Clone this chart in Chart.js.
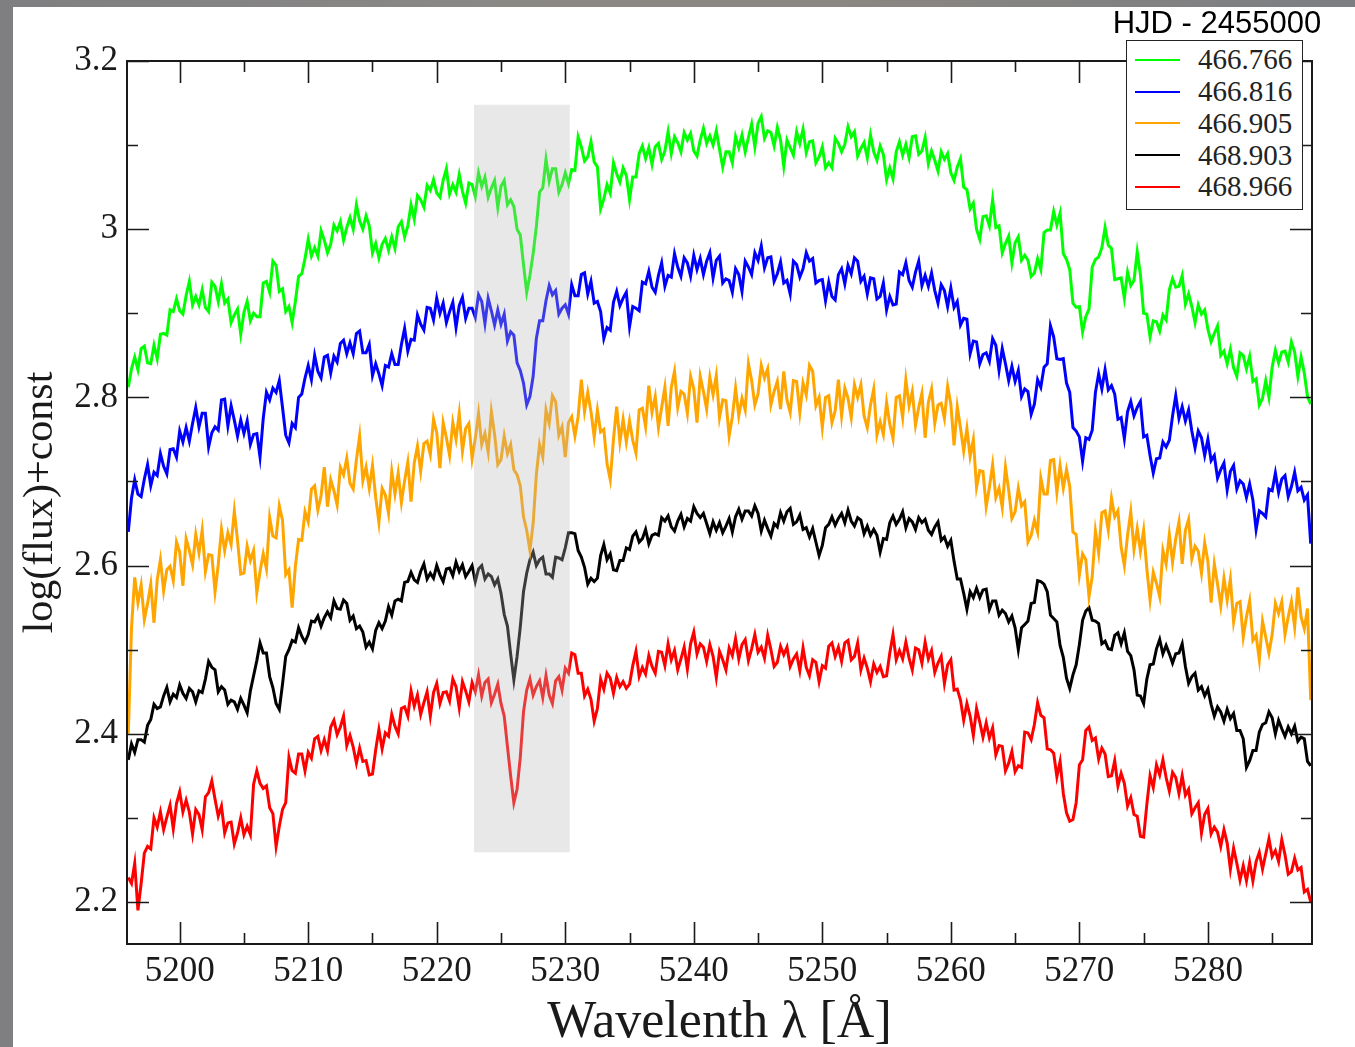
<!DOCTYPE html>
<html lang="en">
<head>
<meta charset="UTF-8">
<title>Spectra around 5240 Å</title>
<script src="https://cdn.jsdelivr.net/npm/chart.js"></script>
<style>
  html, body { margin: 0; padding: 0; }
  body {
    width: 1355px; height: 1047px; overflow: hidden; position: relative;
    background: linear-gradient(90deg, #7f7f81 0%, #8a8886 35%, #8b8782 60%, #7c7e82 100%);
  }
  .panel {
    position: absolute; left: 13px; top: 7px; width: 1342px; height: 1040px;
    background: #ffffff;
  }
  #spectra { position: absolute; left: 0; top: 0; }
  .legend-title {
    position: absolute; left: 1084px; top: 1px; width: 240px; text-align: center;
    font-family: "Liberation Sans", Arial, sans-serif; font-size: 31px; line-height: 30px;
    color: #000;
  }
  .legend-box {
    position: absolute; left: 1113px; top: 33px; width: 177px; height: 170px;
    border: 1.5px solid #222; background: #fff; padding-top: 3px; box-sizing: border-box;
  }
  .legend-row { display: flex; align-items: center; height: 31.75px; }
  .legend-line { width: 45px; height: 2px; margin-left: 8px; }
  .legend-text {
    margin-left: 18px; font-family: "Liberation Serif", "Times New Roman", serif;
    font-size: 29px; color: #222;
  }
</style>
</head>
<body>
<div class="panel">
  <canvas id="spectra" width="1342" height="1040"></canvas>
  <div class="legend-title">HJD - 2455000</div>
  <div class="legend-box" id="legend"></div>
</div>
<script>
// wavelength grid of the spectra (Å)
const lambdaStart = 5196.0;
const lambdaStep = 0.25;

// epochs (HJD - 2455000) and their colours
const epochs = ['466.766', '466.816', '466.905', '468.903', '468.966'];
const lineColors = ['#00ff00', '#0000ff', '#ffa500', '#000000', '#ff0000'];

// log(flux) + const, one value per grid step
const flux466766 = [
  2.812, 2.834, 2.848, 2.833, 2.858, 2.861, 2.841, 2.840,
  2.862, 2.846, 2.875, 2.876, 2.874, 2.904, 2.902, 2.917,
  2.903, 2.899, 2.921, 2.938, 2.910, 2.920, 2.910, 2.928,
  2.907, 2.902, 2.937, 2.932, 2.914, 2.935, 2.912, 2.917,
  2.889, 2.898, 2.905, 2.875, 2.901, 2.914, 2.891, 2.900,
  2.896, 2.896, 2.936, 2.938, 2.925, 2.962, 2.957, 2.926,
  2.929, 2.902, 2.908, 2.889, 2.914, 2.944, 2.947, 2.965,
  2.988, 2.968, 2.978, 2.968, 2.998, 2.987, 2.972, 2.982,
  3.005, 2.998, 3.009, 2.987, 3.002, 3.014, 3.000, 3.029,
  3.010, 3.000, 3.016, 3.004, 2.972, 2.983, 2.966, 2.982,
  2.989, 2.975, 2.991, 2.977, 3.003, 3.009, 2.991, 3.004,
  3.029, 3.012, 3.040, 3.035, 3.026, 3.052, 3.046, 3.059,
  3.043, 3.038, 3.058, 3.072, 3.042, 3.053, 3.044, 3.065,
  3.045, 3.031, 3.055, 3.053, 3.039, 3.067, 3.051, 3.062,
  3.038, 3.049, 3.058, 3.026, 3.051, 3.058, 3.029, 3.035,
  3.027, 3.000, 2.993, 2.958, 2.925, 2.945, 2.971, 3.003,
  3.044, 3.049, 3.083, 3.057, 3.072, 3.072, 3.044, 3.053,
  3.067, 3.054, 3.071, 3.070, 3.110, 3.098, 3.081, 3.086,
  3.104, 3.080, 3.074, 3.024, 3.036, 3.053, 3.043, 3.079,
  3.066, 3.056, 3.073, 3.064, 3.035, 3.062, 3.062, 3.090,
  3.099, 3.084, 3.097, 3.077, 3.098, 3.102, 3.083, 3.093,
  3.116, 3.090, 3.110, 3.103, 3.092, 3.115, 3.106, 3.114,
  3.093, 3.087, 3.106, 3.120, 3.102, 3.111, 3.100, 3.117,
  3.095, 3.074, 3.092, 3.092, 3.079, 3.110, 3.097, 3.112,
  3.092, 3.109, 3.125, 3.098, 3.126, 3.134, 3.108, 3.117,
  3.115, 3.099, 3.121, 3.106, 3.075, 3.106, 3.097, 3.088,
  3.116, 3.102, 3.119, 3.091, 3.104, 3.105, 3.079, 3.086,
  3.098, 3.073, 3.079, 3.073, 3.108, 3.102, 3.092, 3.101,
  3.122, 3.110, 3.116, 3.087, 3.096, 3.103, 3.085, 3.112,
  3.092, 3.082, 3.099, 3.089, 3.059, 3.073, 3.060, 3.092,
  3.104, 3.088, 3.101, 3.085, 3.110, 3.111, 3.089, 3.093,
  3.109, 3.078, 3.093, 3.082, 3.069, 3.092, 3.083, 3.090,
  3.067, 3.058, 3.074, 3.084, 3.050, 3.047, 3.024, 3.031,
  3.000, 2.988, 3.015, 3.016, 3.004, 3.035, 3.002, 3.004,
  2.972, 2.983, 2.992, 2.960, 2.984, 2.991, 2.963, 2.969,
  2.963, 2.944, 2.948, 2.965, 2.952, 2.996, 2.999, 2.999,
  3.021, 3.005, 3.019, 2.971, 2.964, 2.952, 2.912, 2.907,
  2.908, 2.878, 2.896, 2.905, 2.955, 2.964, 2.967, 2.978,
  3.002, 2.981, 2.977, 2.940, 2.941, 2.942, 2.918, 2.949,
  2.933, 2.939, 2.973, 2.946, 2.900, 2.899, 2.872, 2.891,
  2.890, 2.879, 2.898, 2.892, 2.928, 2.941, 2.931, 2.932,
  2.945, 2.911, 2.923, 2.908, 2.889, 2.910, 2.899, 2.904,
  2.881, 2.866, 2.876, 2.885, 2.850, 2.855, 2.840, 2.857,
  2.835, 2.825, 2.853, 2.850, 2.834, 2.849, 2.819, 2.822,
  2.791, 2.799, 2.820, 2.800, 2.836, 2.856, 2.841, 2.854,
  2.855, 2.842, 2.866, 2.854, 2.825, 2.848, 2.829, 2.801,
  2.792
];

const flux466816 = [
  2.640, 2.680, 2.702, 2.685, 2.682, 2.703, 2.720, 2.695,
  2.711, 2.707, 2.733, 2.718, 2.709, 2.738, 2.739, 2.729,
  2.760, 2.747, 2.764, 2.748, 2.769, 2.788, 2.765, 2.781,
  2.781, 2.741, 2.758, 2.765, 2.761, 2.797, 2.798, 2.766,
  2.790, 2.773, 2.754, 2.773, 2.757, 2.772, 2.744, 2.756,
  2.757, 2.729, 2.775, 2.806, 2.797, 2.811, 2.806, 2.820,
  2.788, 2.755, 2.746, 2.769, 2.764, 2.800, 2.804, 2.823,
  2.838, 2.821, 2.850, 2.831, 2.823, 2.848, 2.850, 2.829,
  2.849, 2.842, 2.864, 2.868, 2.852, 2.865, 2.852, 2.876,
  2.879, 2.853, 2.853, 2.863, 2.826, 2.840, 2.828, 2.814,
  2.838, 2.836, 2.852, 2.839, 2.839, 2.863, 2.882, 2.855,
  2.869, 2.868, 2.898, 2.887, 2.880, 2.907, 2.906, 2.892,
  2.918, 2.900, 2.912, 2.889, 2.902, 2.913, 2.883, 2.909,
  2.919, 2.894, 2.906, 2.906, 2.895, 2.922, 2.914, 2.888,
  2.918, 2.903, 2.886, 2.904, 2.887, 2.899, 2.867, 2.878,
  2.874, 2.841, 2.832, 2.817, 2.791, 2.801, 2.825, 2.870,
  2.891, 2.891, 2.915, 2.933, 2.922, 2.927, 2.899, 2.906,
  2.910, 2.899, 2.934, 2.921, 2.921, 2.946, 2.948, 2.923,
  2.938, 2.912, 2.914, 2.902, 2.870, 2.883, 2.880, 2.913,
  2.926, 2.909, 2.918, 2.925, 2.884, 2.908, 2.906, 2.903,
  2.937, 2.935, 2.950, 2.931, 2.925, 2.945, 2.960, 2.932,
  2.945, 2.943, 2.971, 2.955, 2.944, 2.966, 2.960, 2.944,
  2.969, 2.952, 2.965, 2.946, 2.962, 2.972, 2.942, 2.963,
  2.968, 2.936, 2.941, 2.939, 2.925, 2.953, 2.946, 2.926,
  2.962, 2.955, 2.946, 2.972, 2.963, 2.980, 2.954, 2.966,
  2.967, 2.938, 2.947, 2.961, 2.936, 2.939, 2.923, 2.962,
  2.958, 2.943, 2.953, 2.972, 2.962, 2.965, 2.936, 2.939,
  2.940, 2.915, 2.937, 2.920, 2.916, 2.946, 2.953, 2.935,
  2.957, 2.947, 2.966, 2.962, 2.938, 2.944, 2.923, 2.942,
  2.941, 2.917, 2.920, 2.936, 2.904, 2.920, 2.910, 2.911,
  2.949, 2.946, 2.960, 2.939, 2.931, 2.949, 2.962, 2.933,
  2.945, 2.932, 2.948, 2.927, 2.912, 2.934, 2.927, 2.908,
  2.930, 2.907, 2.914, 2.886, 2.894, 2.893, 2.852, 2.867,
  2.866, 2.840, 2.851, 2.853, 2.843, 2.870, 2.862, 2.832,
  2.858, 2.840, 2.820, 2.837, 2.819, 2.832, 2.801, 2.810,
  2.807, 2.780, 2.792, 2.821, 2.812, 2.836, 2.840, 2.885,
  2.872, 2.846, 2.845, 2.846, 2.817, 2.806, 2.764, 2.760,
  2.753, 2.724, 2.752, 2.750, 2.761, 2.806, 2.828, 2.810,
  2.833, 2.809, 2.814, 2.804, 2.774, 2.776, 2.751, 2.783,
  2.795, 2.778, 2.788, 2.795, 2.753, 2.755, 2.731, 2.710,
  2.727, 2.728, 2.747, 2.741, 2.749, 2.778, 2.802, 2.775,
  2.789, 2.772, 2.785, 2.760, 2.740, 2.760, 2.752, 2.731,
  2.750, 2.725, 2.731, 2.704, 2.714, 2.722, 2.690, 2.712,
  2.719, 2.691, 2.701, 2.697, 2.681, 2.697, 2.678, 2.643,
  2.665, 2.662, 2.658, 2.691, 2.689, 2.710, 2.687, 2.703,
  2.707, 2.682, 2.694, 2.711, 2.689, 2.693, 2.678, 2.684,
  2.626
];

const flux466905 = [
  2.400, 2.526, 2.586, 2.556, 2.577, 2.536, 2.555, 2.578,
  2.532, 2.583, 2.607, 2.570, 2.595, 2.599, 2.582, 2.628,
  2.616, 2.576, 2.632, 2.618, 2.601, 2.637, 2.615, 2.642,
  2.593, 2.613, 2.612, 2.569, 2.601, 2.643, 2.618, 2.639,
  2.625, 2.665, 2.630, 2.590, 2.591, 2.623, 2.606, 2.618,
  2.568, 2.593, 2.614, 2.596, 2.657, 2.635, 2.633, 2.671,
  2.654, 2.589, 2.595, 2.550, 2.599, 2.631, 2.630, 2.664,
  2.652, 2.691, 2.695, 2.666, 2.683, 2.717, 2.670, 2.702,
  2.689, 2.672, 2.717, 2.708, 2.728, 2.698, 2.691, 2.726,
  2.754, 2.701, 2.717, 2.692, 2.719, 2.681, 2.651, 2.692,
  2.684, 2.662, 2.712, 2.685, 2.710, 2.675, 2.701, 2.723,
  2.676, 2.722, 2.742, 2.712, 2.745, 2.748, 2.732, 2.774,
  2.758, 2.716, 2.770, 2.752, 2.731, 2.770, 2.750, 2.781,
  2.736, 2.763, 2.769, 2.727, 2.751, 2.781, 2.744, 2.757,
  2.735, 2.783, 2.756, 2.720, 2.726, 2.754, 2.733, 2.744,
  2.714, 2.708, 2.695, 2.658, 2.642, 2.618, 2.650, 2.708,
  2.744, 2.729, 2.785, 2.769, 2.802, 2.795, 2.755, 2.765,
  2.729, 2.770, 2.777, 2.754, 2.777, 2.821, 2.783, 2.806,
  2.783, 2.753, 2.785, 2.759, 2.762, 2.721, 2.702, 2.750,
  2.789, 2.747, 2.774, 2.747, 2.772, 2.749, 2.734, 2.785,
  2.787, 2.765, 2.814, 2.782, 2.801, 2.764, 2.788, 2.812,
  2.766, 2.812, 2.831, 2.788, 2.807, 2.804, 2.781, 2.825,
  2.810, 2.770, 2.825, 2.807, 2.786, 2.824, 2.803, 2.826,
  2.776, 2.797, 2.796, 2.754, 2.777, 2.811, 2.778, 2.799,
  2.785, 2.840, 2.820, 2.791, 2.804, 2.838, 2.823, 2.834,
  2.791, 2.807, 2.819, 2.786, 2.831, 2.797, 2.782, 2.820,
  2.819, 2.782, 2.817, 2.803, 2.838, 2.831, 2.790, 2.800,
  2.764, 2.800, 2.802, 2.770, 2.784, 2.821, 2.778, 2.811,
  2.799, 2.776, 2.815, 2.800, 2.815, 2.778, 2.764, 2.791,
  2.810, 2.755, 2.771, 2.756, 2.794, 2.768, 2.751, 2.800,
  2.802, 2.776, 2.821, 2.790, 2.807, 2.767, 2.788, 2.805,
  2.752, 2.794, 2.810, 2.769, 2.791, 2.793, 2.775, 2.813,
  2.792, 2.743, 2.789, 2.764, 2.736, 2.763, 2.730, 2.750,
  2.693, 2.713, 2.712, 2.670, 2.693, 2.720, 2.681, 2.692,
  2.669, 2.717, 2.690, 2.656, 2.664, 2.692, 2.671, 2.676,
  2.628, 2.636, 2.654, 2.640, 2.704, 2.685, 2.685, 2.725,
  2.726, 2.687, 2.719, 2.692, 2.714, 2.694, 2.640, 2.637,
  2.589, 2.614, 2.607, 2.563, 2.587, 2.641, 2.615, 2.663,
  2.665, 2.642, 2.680, 2.658, 2.665, 2.622, 2.600, 2.636,
  2.664, 2.619, 2.644, 2.617, 2.642, 2.596, 2.559, 2.592,
  2.579, 2.563, 2.618, 2.602, 2.637, 2.604, 2.632, 2.652,
  2.602, 2.642, 2.655, 2.608, 2.623, 2.617, 2.591, 2.627,
  2.605, 2.556, 2.602, 2.578, 2.552, 2.585, 2.559, 2.584,
  2.533, 2.555, 2.557, 2.515, 2.539, 2.558, 2.511, 2.517,
  2.488, 2.534, 2.515, 2.496, 2.518, 2.555, 2.543, 2.557,
  2.518, 2.539, 2.557, 2.527, 2.574, 2.539, 2.525, 2.549,
  2.440
];

const flux468903 = [
  2.369, 2.388, 2.378, 2.393, 2.393, 2.390, 2.410, 2.417,
  2.435, 2.430, 2.432, 2.445, 2.455, 2.438, 2.447, 2.443,
  2.458, 2.448, 2.442, 2.454, 2.450, 2.438, 2.451, 2.449,
  2.465, 2.486, 2.479, 2.476, 2.450, 2.456, 2.452, 2.435,
  2.440, 2.438, 2.429, 2.442, 2.434, 2.425, 2.451, 2.469,
  2.487, 2.508, 2.496, 2.496, 2.468, 2.455, 2.436, 2.429,
  2.459, 2.492, 2.500, 2.511, 2.509, 2.526, 2.516, 2.509,
  2.518, 2.534, 2.533, 2.540, 2.528, 2.538, 2.545, 2.538,
  2.558, 2.549, 2.548, 2.559, 2.555, 2.535, 2.540, 2.525,
  2.528, 2.521, 2.503, 2.509, 2.501, 2.523, 2.532, 2.525,
  2.534, 2.551, 2.541, 2.558, 2.560, 2.558, 2.580, 2.581,
  2.592, 2.583, 2.580, 2.593, 2.602, 2.584, 2.591, 2.585,
  2.600, 2.589, 2.581, 2.596, 2.597, 2.588, 2.604, 2.593,
  2.601, 2.587, 2.593, 2.600, 2.581, 2.596, 2.600, 2.584,
  2.590, 2.587, 2.577, 2.584, 2.567, 2.542, 2.528, 2.495,
  2.464, 2.492, 2.527, 2.569, 2.591, 2.607, 2.616, 2.600,
  2.607, 2.610, 2.590, 2.590, 2.586, 2.610, 2.609, 2.607,
  2.621, 2.639, 2.639, 2.638, 2.618, 2.610, 2.598, 2.578,
  2.585, 2.581, 2.585, 2.612, 2.625, 2.607, 2.614, 2.595,
  2.594, 2.606, 2.606, 2.621, 2.619, 2.635, 2.640, 2.628,
  2.632, 2.643, 2.626, 2.636, 2.638, 2.636, 2.657, 2.653,
  2.659, 2.646, 2.641, 2.653, 2.661, 2.646, 2.656, 2.653,
  2.670, 2.662, 2.657, 2.662, 2.650, 2.638, 2.652, 2.642,
  2.651, 2.639, 2.647, 2.656, 2.640, 2.658, 2.667, 2.655,
  2.665, 2.665, 2.659, 2.671, 2.662, 2.641, 2.654, 2.644,
  2.635, 2.650, 2.646, 2.663, 2.653, 2.664, 2.668, 2.649,
  2.652, 2.660, 2.643, 2.645, 2.634, 2.644, 2.628, 2.612,
  2.624, 2.645, 2.649, 2.658, 2.648, 2.656, 2.662, 2.651,
  2.666, 2.653, 2.647, 2.657, 2.654, 2.638, 2.647, 2.636,
  2.643, 2.636, 2.616, 2.632, 2.631, 2.651, 2.659, 2.649,
  2.655, 2.664, 2.645, 2.656, 2.652, 2.643, 2.657, 2.651,
  2.655, 2.642, 2.637, 2.646, 2.652, 2.630, 2.634, 2.623,
  2.630, 2.605, 2.584, 2.584, 2.567, 2.548, 2.569, 2.562,
  2.573, 2.562, 2.571, 2.572, 2.548, 2.558, 2.558, 2.541,
  2.547, 2.543, 2.533, 2.540, 2.526, 2.500, 2.526, 2.530,
  2.534, 2.555, 2.556, 2.582, 2.581, 2.578, 2.569, 2.541,
  2.537, 2.533, 2.505, 2.491, 2.466, 2.454, 2.470, 2.482,
  2.506, 2.535, 2.546, 2.550, 2.535, 2.534, 2.531, 2.507,
  2.510, 2.501, 2.500, 2.517, 2.520, 2.507, 2.520, 2.498,
  2.493, 2.476, 2.446, 2.445, 2.436, 2.465, 2.482, 2.483,
  2.501, 2.512, 2.495, 2.505, 2.495, 2.484, 2.495, 2.496,
  2.507, 2.480, 2.460, 2.468, 2.472, 2.452, 2.456, 2.445,
  2.453, 2.435, 2.421, 2.432, 2.426, 2.415, 2.429, 2.418,
  2.424, 2.404, 2.404, 2.394, 2.360, 2.368, 2.380, 2.380,
  2.402, 2.411, 2.413, 2.426, 2.419, 2.400, 2.416, 2.406,
  2.397, 2.408, 2.400, 2.409, 2.391, 2.396, 2.394, 2.367,
  2.362
];

const flux468966 = [
  2.229, 2.222, 2.246, 2.190, 2.222, 2.258, 2.266, 2.263,
  2.300, 2.289, 2.307, 2.286, 2.301, 2.315, 2.287, 2.317,
  2.331, 2.307, 2.321, 2.307, 2.281, 2.310, 2.304, 2.286,
  2.325, 2.330, 2.344, 2.322, 2.302, 2.314, 2.282, 2.294,
  2.295, 2.269, 2.282, 2.300, 2.280, 2.290, 2.280, 2.340,
  2.356, 2.341, 2.335, 2.338, 2.312, 2.305, 2.266, 2.290,
  2.310, 2.318, 2.372, 2.356, 2.353, 2.376, 2.376, 2.356,
  2.378, 2.371, 2.394, 2.397, 2.380, 2.393, 2.380, 2.408,
  2.416, 2.399, 2.408, 2.421, 2.386, 2.398, 2.384, 2.365,
  2.383, 2.367, 2.368, 2.351, 2.352, 2.381, 2.405, 2.382,
  2.401, 2.397, 2.423, 2.409, 2.400, 2.430, 2.432, 2.421,
  2.451, 2.433, 2.446, 2.423, 2.437, 2.450, 2.421, 2.449,
  2.460, 2.436, 2.449, 2.450, 2.439, 2.465, 2.456, 2.431,
  2.462, 2.451, 2.438, 2.461, 2.450, 2.470, 2.445, 2.461,
  2.465, 2.437, 2.447, 2.459, 2.436, 2.421, 2.385, 2.350,
  2.318, 2.334, 2.372, 2.426, 2.452, 2.465, 2.446, 2.456,
  2.463, 2.443, 2.469, 2.446, 2.436, 2.463, 2.468, 2.452,
  2.478, 2.472, 2.496, 2.494, 2.472, 2.472, 2.445, 2.453,
  2.441, 2.415, 2.430, 2.465, 2.453, 2.472, 2.466, 2.448,
  2.467, 2.456, 2.462, 2.454, 2.459, 2.481, 2.498, 2.468,
  2.479, 2.471, 2.493, 2.480, 2.472, 2.498, 2.497, 2.481,
  2.507, 2.488, 2.499, 2.476, 2.489, 2.503, 2.477, 2.507,
  2.521, 2.495, 2.507, 2.503, 2.486, 2.506, 2.492, 2.467,
  2.498, 2.488, 2.476, 2.502, 2.493, 2.513, 2.489, 2.506,
  2.512, 2.487, 2.501, 2.518, 2.497, 2.503, 2.490, 2.517,
  2.500, 2.480, 2.485, 2.504, 2.494, 2.503, 2.480, 2.489,
  2.495, 2.475, 2.502, 2.479, 2.469, 2.488, 2.485, 2.462,
  2.481, 2.478, 2.504, 2.508, 2.492, 2.503, 2.486, 2.508,
  2.511, 2.488, 2.492, 2.508, 2.476, 2.490, 2.478, 2.462,
  2.483, 2.473, 2.480, 2.468, 2.469, 2.496, 2.518, 2.488,
  2.499, 2.489, 2.509, 2.490, 2.476, 2.502, 2.500, 2.484,
  2.509, 2.489, 2.499, 2.473, 2.484, 2.492, 2.460, 2.482,
  2.488, 2.452, 2.453, 2.440, 2.416, 2.436, 2.421, 2.398,
  2.430, 2.414, 2.396, 2.413, 2.395, 2.407, 2.375, 2.386,
  2.385, 2.356, 2.365, 2.379, 2.355, 2.362, 2.360, 2.402,
  2.401, 2.393, 2.411, 2.437, 2.422, 2.419, 2.382, 2.381,
  2.377, 2.349, 2.367, 2.329, 2.306, 2.296, 2.298, 2.318,
  2.363, 2.369, 2.404, 2.408, 2.392, 2.395, 2.370, 2.383,
  2.376, 2.349, 2.350, 2.368, 2.338, 2.353, 2.341, 2.314,
  2.324, 2.304, 2.302, 2.278, 2.277, 2.316, 2.350, 2.336,
  2.363, 2.351, 2.369, 2.348, 2.332, 2.354, 2.348, 2.329,
  2.350, 2.327, 2.334, 2.305, 2.312, 2.318, 2.282, 2.304,
  2.311, 2.281, 2.289, 2.283, 2.266, 2.286, 2.270, 2.239,
  2.264, 2.246, 2.226, 2.243, 2.225, 2.247, 2.225, 2.248,
  2.259, 2.239, 2.257, 2.275, 2.254, 2.261, 2.248, 2.274,
  2.256, 2.233, 2.236, 2.252, 2.238, 2.241, 2.212, 2.215,
  2.200
];

// axis windows
const lambdaRange = [5195.9, 5288.1];
const fluxRange = [2.15, 3.2];

// grey band marking the 5227 Å line
const bandLambda = [5222.9, 5230.35];
const bandFlux = [2.259, 3.148];

const seriesValues = [flux466766, flux466816, flux466905, flux468903, flux468966];

const serif = '"Liberation Serif", "Times New Roman", serif';
const axisInk = '#1a1a1a';

function toPoints(values) {
  return values.map((v, i) => ({ x: lambdaStart + i * lambdaStep, y: v }));
}

// translucent band drawn over the spectra
const bandPlugin = {
  id: 'band',
  afterDatasetsDraw(chart) {
    const { ctx, scales: { x, y } } = chart;
    const x0 = x.getPixelForValue(bandLambda[0]);
    const x1 = x.getPixelForValue(bandLambda[1]);
    const y0 = y.getPixelForValue(bandFlux[1]);
    const y1 = y.getPixelForValue(bandFlux[0]);
    ctx.save();
    ctx.fillStyle = 'rgba(185, 185, 185, 0.32)';
    ctx.fillRect(x0, y0, x1 - x0, y1 - y0);
    ctx.restore();
  }
};

// closed frame with inward ticks on all four sides
const framePlugin = {
  id: 'frame',
  afterDraw(chart) {
    const { ctx, chartArea: a, scales: { x, y } } = chart;
    ctx.save();
    ctx.strokeStyle = axisInk;
    ctx.lineWidth = 1.6;
    ctx.beginPath();
    x.ticks.forEach(t => {
      const px = Math.round(x.getPixelForValue(t.value)) + 0.5;
      const len = t.value % 10 === 0 ? 22 : 11;
      ctx.moveTo(px, a.bottom); ctx.lineTo(px, a.bottom - len);
      ctx.moveTo(px, a.top); ctx.lineTo(px, a.top + len);
    });
    y.ticks.forEach(t => {
      const py = Math.round(y.getPixelForValue(t.value)) + 0.5;
      const len = Math.round(t.value * 10) % 2 === 0 ? 22 : 11;
      ctx.moveTo(a.left, py); ctx.lineTo(a.left + len, py);
      ctx.moveTo(a.right, py); ctx.lineTo(a.right - len, py);
    });
    ctx.stroke();
    ctx.lineWidth = 2;
    ctx.strokeRect(a.left, a.top, a.right - a.left, a.bottom - a.top);
    ctx.restore();
  }
};

const chart = new Chart(document.getElementById('spectra').getContext('2d'), {
  type: 'line',
  data: {
    datasets: epochs.map((label, k) => ({
      label: label,
      data: toPoints(seriesValues[k]),
      borderColor: lineColors[k],
      backgroundColor: lineColors[k],
      borderWidth: 3,
      borderJoinStyle: 'miter',
      pointRadius: 0,
      tension: 0,
      fill: false
    }))
  },
  options: {
    responsive: false,
    animation: false,
    events: [],
    layout: { padding: { top: 54, right: 43, left: 0, bottom: 0 } },
    plugins: {
      legend: { display: false },
      tooltip: { enabled: false }
    },
    scales: {
      x: {
        type: 'linear',
        min: lambdaRange[0],
        max: lambdaRange[1],
        grid: { display: false, drawTicks: false },
        border: { display: false },
        ticks: {
          stepSize: 5,
          includeBounds: false,
          autoSkip: false,
          maxRotation: 0,
          padding: 7,
          color: axisInk,
          font: { family: serif, size: 35 },
          callback: v => (v % 10 === 0 ? String(v) : '')
        },
        title: {
          display: true,
          text: 'Wavelenth λ [Å]',
          color: axisInk,
          font: { family: serif, size: 52, lineHeight: 1 },
          padding: { top: 0, bottom: -2 }
        },
        afterFit(scale) { scale.height = 103; }
      },
      y: {
        min: fluxRange[0],
        max: fluxRange[1],
        grid: { display: false, drawTicks: false },
        border: { display: false },
        ticks: {
          stepSize: 0.1,
          includeBounds: false,
          autoSkip: false,
          padding: 9,
          color: axisInk,
          font: { family: serif, size: 35 },
          callback: v => {
            const k = Math.round(v * 10);
            return k % 2 === 0 ? String(k / 10) : '';
          }
        },
        title: {
          display: true,
          text: 'log(flux)+const',
          color: axisInk,
          font: { family: serif, size: 42, lineHeight: 1 },
          padding: { top: 7, bottom: 0 }
        },
        afterFit(scale) { scale.width = 114; }
      }
    }
  },
  plugins: [bandPlugin, framePlugin]
});

// legend rows built from the chart's datasets
const legendBox = document.getElementById('legend');
chart.data.datasets.forEach(ds => {
  const row = document.createElement('div');
  row.className = 'legend-row';
  const swatch = document.createElement('span');
  swatch.className = 'legend-line';
  swatch.style.background = ds.borderColor;
  const text = document.createElement('span');
  text.className = 'legend-text';
  text.textContent = ds.label;
  row.appendChild(swatch);
  row.appendChild(text);
  legendBox.appendChild(row);
});
</script>
</body>
</html>
